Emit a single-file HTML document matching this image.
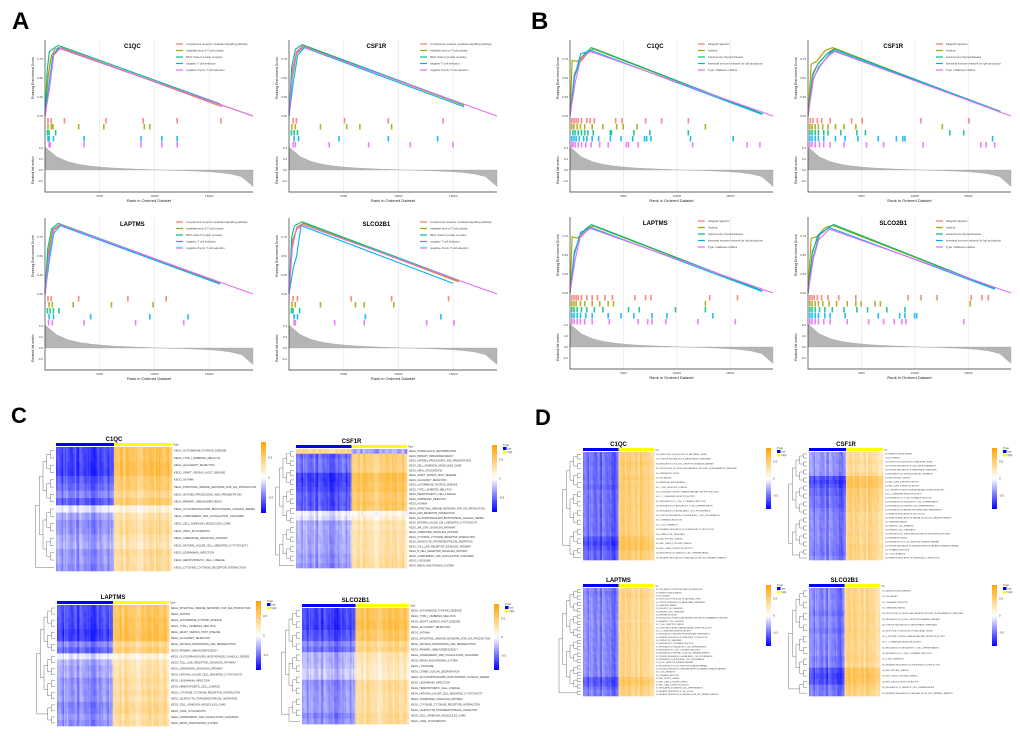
<!DOCTYPE html>
<html><head><meta charset="utf-8"><style>
html,body{margin:0;padding:0;background:#fff;}
svg{display:block;font-family:"Liberation Sans",sans-serif;}
</style></head><body>
<svg id="fig" width="1020" height="736" viewBox="0 0 1020 736" xmlns="http://www.w3.org/2000/svg">
<text x="12" y="29" font-size="24" font-weight="bold">A</text>
<text x="531" y="29" font-size="24" font-weight="bold">B</text>
<text x="11" y="423" font-size="22" font-weight="bold">C</text>
<text x="535" y="425" font-size="22" font-weight="bold">D</text>
<g id="root"></g>
</svg>
<script>
// ---------- DATA ----------
const N = 19000;
const colors = ["#F8766D","#A3A500","#00BF7D","#00B0F6","#E76BF3"];
const namesA = ["complement receptor mediated signaling pathway","establishment of T cell polarity","MHC class II protein complex","negative T cell selection","negative thymic T cell selection"];
const namesB = ["Allograft rejection","Asthma","Autoimmune thyroid disease","Intestinal immune network for IgA production","Type I diabetes mellitus"];
const metricVals = [0.42,0.24,0.15,0.1,0.07,0.05,0.035,0.025,0.015,0.008,0,-0.006,-0.012,-0.02,-0.03,-0.045,-0.07,-0.12,-0.3];
const esA1 = [[[0,0],[250,0.45],[500,0.75],[900,0.88],[1500,0.9],[16200,0.12]],[[0,0],[300,0.55],[600,0.8],[1300,0.89],[19000,0.0]],[[0,0],[200,0.6],[400,0.85],[1200,0.93],[16000,0.16]],[[0,0],[350,0.4],[700,0.78],[1200,0.9],[16200,0.14]],[[0,0],[400,0.35],[800,0.8],[1400,0.89],[19000,0.0]]];
const esA2 = [[[0,0],[300,0.6],[700,0.85],[1300,0.93],[16000,0.15]],[[0,0],[300,0.5],[700,0.82],[1400,0.92],[16000,0.14]],[[0,0],[250,0.65],[600,0.88],[1200,0.94],[16000,0.15]],[[0,0],[400,0.45],[800,0.8],[1400,0.9],[16000,0.12]],[[0,0],[300,0.55],[700,0.84],[1300,0.91],[19000,0.0]]];
const esA3 = [[[0,0],[300,0.5],[700,0.85],[1400,0.92],[16000,0.14]],[[0,0],[300,0.55],[700,0.83],[1300,0.91],[16000,0.13]],[[0,0],[250,0.6],[600,0.86],[1200,0.93],[16000,0.15]],[[0,0],[400,0.45],[800,0.8],[1400,0.9],[16000,0.13]],[[0,0],[350,0.5],[800,0.84],[1400,0.91],[19000,0.0]]];
const esA4 = [[[0,0],[300,0.6],[700,0.88],[1300,0.93],[15500,0.16]],[[0,0],[300,0.7],[700,0.85],[1300,0.93],[15500,0.17]],[[0,0],[250,0.75],[500,0.9],[1200,0.95],[15500,0.18]],[[0,0],[400,0.35],[700,0.5],[1100,0.9],[15000,0.14]],[[0,0],[300,0.65],[700,0.85],[1300,0.91],[19000,0.0]]];
const esB1 = [[[0,0],[400,0.55],[900,0.7],[1800,0.85],[2200,0.89],[18000,0.03]],[[0,0],[200,0.73],[700,0.72],[1500,0.84],[2200,0.88],[18000,0.03]],[[0,0],[400,0.5],[900,0.72],[1700,0.86],[2000,0.9],[18000,0.03]],[[0,0],[400,0.5],[1000,0.82],[2000,0.86],[18000,0.02]],[[0,0],[500,0.45],[1000,0.75],[1900,0.85],[19000,0.0]]];
const esB2 = [[[0,0],[400,0.55],[1000,0.7],[2000,0.85],[2500,0.89],[18000,0.05]],[[0,0],[300,0.68],[800,0.72],[1600,0.86],[2300,0.9],[18000,0.05]],[[0,0],[400,0.52],[900,0.68],[1800,0.82],[2500,0.88],[18000,0.06]],[[0,0],[500,0.5],[1100,0.65],[2000,0.82],[2500,0.86],[18000,0.06]],[[0,0],[500,0.48],[1000,0.65],[2000,0.8],[2500,0.85],[19000,0.0]]];
const esB3 = [[[0,0],[400,0.55],[900,0.72],[1800,0.85],[2200,0.89],[18000,0.03]],[[0,0],[200,0.74],[700,0.72],[1500,0.85],[2200,0.88],[18000,0.03]],[[0,0],[400,0.52],[900,0.75],[1700,0.87],[2000,0.9],[18000,0.03]],[[0,0],[400,0.5],[1000,0.8],[2000,0.86],[18000,0.02]],[[0,0],[500,0.45],[1000,0.76],[1900,0.85],[19000,0.0]]];
const esB4 = [[[0,0],[400,0.55],[1000,0.75],[2000,0.87],[2400,0.9],[17500,0.06]],[[0,0],[300,0.72],[800,0.74],[1600,0.86],[2300,0.89],[17500,0.06]],[[0,0],[400,0.52],[900,0.75],[1800,0.85],[2400,0.9],[17500,0.06]],[[0,0],[500,0.48],[1100,0.78],[2000,0.86],[17500,0.05]],[[0,0],[500,0.45],[1000,0.7],[2000,0.84],[19000,0.0]]];
const hitsA1 = [[200,500,1700,5500,8900,12000,16000],[200,500,650,3000,5300,9000,9500],[150,300,900],[200,300,700,3500,8700,10600,12000],[300,400,3500,8700,10600,12000]];
const hitsA2 = [[300,600,5000,9000,14000],[200,500,2800,5200,6400,9300],[150,400,700],[400,800,4500,9000,13500],[300,500,3600,7200,11000,14900]];
const hitsA3 = [[200,500,3000,7500,11000],[300,600,2500,6000,9800],[150,400,700,1200],[300,700,4100,9500,13000],[250,600,3500,8200,12600]];
const hitsA4 = [[300,700,5600,9300,14500],[200,500,2800,6000,6800,9500],[150,300,900],[400,700,6900,13800],[400,500,4100,6800,12500,15000]];
const hitsB1 = [[100,300,500,700,1000,1500,1800,2200,4200,4800,7000,8500,11000],[100,300,600,900,1300,2000,3000,4300,4900,6200,12600],[200,400,700,1000,1300,1600,2100,3700,3800,5900,7400,11000],[100,300,500,800,1200,1500,2000,2600,3700,4700,5800,6900,7100,7500,11200,15200],[100,200,400,700,1000,1400,1900,2700,3500,5200,5400,6300,11400,16500,17700]];
const hitsB2 = [[150,400,800,1200,2000,4000,5000,10500,15000],[100,300,600,900,1300,1800,2500,3300,4400,12500],[100,300,600,900,1400,1800,3000,4500,5300,13200,14500],[100,300,600,900,1400,2500,3400,4600,6500,8200,8800,9000,17200],[100,300,600,1000,1400,2000,3300,5400,7000,10700,16100,16600,17400]];
const hitsB3 = [[100,300,500,700,1000,1500,2000,2500,3200,3900,6000,7000,7500,13000,15600],[100,300,500,900,1300,2000,2700,3500,4000,12600],[100,300,600,1000,1500,2200,3000,5400,6400,9800,12600],[100,300,600,900,1400,2000,3500,4700,5900,7600,9000,13300],[100,300,600,900,1300,2000,3600,6300,7200,7600,8900,11900,15400]];
const hitsB4 = [[100,300,500,800,1200,1800,2800,4400,9300,10500,12000,15200,16200,16800],[100,300,600,900,1300,1900,2600,3600,4400,4900,6200,6700,15100],[100,300,600,1000,1500,2200,3300,4500,5500,7300,9000],[100,300,600,900,1500,2000,3400,6500,8500,9000,9900,10100],[100,300,600,900,1400,2000,3600,5600,7000,8000,8700,9100,14500]];

const lblC1 = ["KEGG_AUTOIMMUNE_THYROID_DISEASE","KEGG_TYPE_I_DIABETES_MELLITUS","KEGG_ALLOGRAFT_REJECTION","KEGG_GRAFT_VERSUS_HOST_DISEASE","KEGG_ASTHMA","KEGG_INTESTINAL_IMMUNE_NETWORK_FOR_IGA_PRODUCTION","KEGG_ANTIGEN_PROCESSING_AND_PRESENTATION","KEGG_PRIMARY_IMMUNODEFICIENCY","KEGG_GLYCOSPHINGOLIPID_BIOSYNTHESIS_GANGLIO_SERIES","KEGG_COMPLEMENT_AND_COAGULATION_CASCADES","KEGG_CELL_ADHESION_MOLECULES_CAMS","KEGG_VIRAL_MYOCARDITIS","KEGG_CHEMOKINE_SIGNALING_PATHWAY","KEGG_NATURAL_KILLER_CELL_MEDIATED_CYTOTOXICITY","KEGG_LEISHMANIA_INFECTION","KEGG_HEMATOPOIETIC_CELL_LINEAGE","KEGG_CYTOKINE_CYTOKINE_RECEPTOR_INTERACTION"];
const strC1 = [0.9,0.9,0.95,0.95,0.8,0.75,0.6,0.8,0.15,0.45,0.55,0.55,0.45,0.4,0.55,0.5,0.55];
const lblC2 = ["KEGG_HOMOLOGOUS_RECOMBINATION","KEGG_PRIMARY_IMMUNODEFICIENCY","KEGG_ANTIGEN_PROCESSING_AND_PRESENTATION","KEGG_CELL_ADHESION_MOLECULES_CAMS","KEGG_VIRAL_MYOCARDITIS","KEGG_GRAFT_VERSUS_HOST_DISEASE","KEGG_ALLOGRAFT_REJECTION","KEGG_AUTOIMMUNE_THYROID_DISEASE","KEGG_TYPE_I_DIABETES_MELLITUS","KEGG_HEMATOPOIETIC_CELL_LINEAGE","KEGG_LEISHMANIA_INFECTION","KEGG_ASTHMA","KEGG_INTESTINAL_IMMUNE_NETWORK_FOR_IGA_PRODUCTION","KEGG_ECM_RECEPTOR_INTERACTION","KEGG_GLYCOSPHINGOLIPID_BIOSYNTHESIS_GANGLIO_SERIES","KEGG_NATURAL_KILLER_CELL_MEDIATED_CYTOTOXICITY","KEGG_JAK_STAT_SIGNALING_PATHWAY","KEGG_CHEMOKINE_SIGNALING_PATHWAY","KEGG_CYTOKINE_CYTOKINE_RECEPTOR_INTERACTION","KEGG_LEUKOCYTE_TRANSENDOTHELIAL_MIGRATION","KEGG_TOLL_LIKE_RECEPTOR_SIGNALING_PATHWAY","KEGG_B_CELL_RECEPTOR_SIGNALING_PATHWAY","KEGG_COMPLEMENT_AND_COAGULATION_CASCADES","KEGG_LYSOSOME","KEGG_RENIN_ANGIOTENSIN_SYSTEM"];
const strC2 = [-0.5,0.75,0.7,0.7,0.7,0.95,0.95,0.9,0.9,0.8,0.8,0.85,0.8,0.1,0.2,0.45,0.4,0.45,0.45,0.45,0.45,0.45,0.5,0.5,0.55];
const lblC3 = ["KEGG_INTESTINAL_IMMUNE_NETWORK_FOR_IGA_PRODUCTION","KEGG_ASTHMA","KEGG_AUTOIMMUNE_THYROID_DISEASE","KEGG_TYPE_I_DIABETES_MELLITUS","KEGG_GRAFT_VERSUS_HOST_DISEASE","KEGG_ALLOGRAFT_REJECTION","KEGG_ANTIGEN_PROCESSING_AND_PRESENTATION","KEGG_PRIMARY_IMMUNODEFICIENCY","KEGG_GLYCOSPHINGOLIPID_BIOSYNTHESIS_GANGLIO_SERIES","KEGG_TOLL_LIKE_RECEPTOR_SIGNALING_PATHWAY","KEGG_CHEMOKINE_SIGNALING_PATHWAY","KEGG_NATURAL_KILLER_CELL_MEDIATED_CYTOTOXICITY","KEGG_LEISHMANIA_INFECTION","KEGG_HEMATOPOIETIC_CELL_LINEAGE","KEGG_CYTOKINE_CYTOKINE_RECEPTOR_INTERACTION","KEGG_LEUKOCYTE_TRANSENDOTHELIAL_MIGRATION","KEGG_CELL_ADHESION_MOLECULES_CAMS","KEGG_VIRAL_MYOCARDITIS","KEGG_COMPLEMENT_AND_COAGULATION_CASCADES","KEGG_RENIN_ANGIOTENSIN_SYSTEM"];
const strC3 = [0.85,0.85,0.9,0.9,0.95,0.95,0.6,0.75,0.15,0.4,0.45,0.45,0.55,0.5,0.55,0.5,0.6,0.6,0.5,0.55];
const lblC4 = ["KEGG_AUTOIMMUNE_THYROID_DISEASE","KEGG_TYPE_I_DIABETES_MELLITUS","KEGG_GRAFT_VERSUS_HOST_DISEASE","KEGG_ALLOGRAFT_REJECTION","KEGG_ASTHMA","KEGG_INTESTINAL_IMMUNE_NETWORK_FOR_IGA_PRODUCTION","KEGG_ANTIGEN_PROCESSING_AND_PRESENTATION","KEGG_PRIMARY_IMMUNODEFICIENCY","KEGG_COMPLEMENT_AND_COAGULATION_CASCADES","KEGG_RENIN_ANGIOTENSIN_SYSTEM","KEGG_LYSOSOME","KEGG_OTHER_GLYCAN_DEGRADATION","KEGG_GLYCOSPHINGOLIPID_BIOSYNTHESIS_GANGLIO_SERIES","KEGG_LEISHMANIA_INFECTION","KEGG_HEMATOPOIETIC_CELL_LINEAGE","KEGG_NATURAL_KILLER_CELL_MEDIATED_CYTOTOXICITY","KEGG_CHEMOKINE_SIGNALING_PATHWAY","KEGG_CYTOKINE_CYTOKINE_RECEPTOR_INTERACTION","KEGG_LEUKOCYTE_TRANSENDOTHELIAL_MIGRATION","KEGG_CELL_ADHESION_MOLECULES_CAMS","KEGG_VIRAL_MYOCARDITIS"];
const strC4 = [0.9,0.9,0.95,0.95,0.85,0.85,0.6,0.7,0.4,0.4,0.35,0.3,0.3,0.55,0.55,0.5,0.5,0.5,0.5,0.6,0.55];
const lblD1 = ["GO_DETECTION_OF_MOLECULE_OF_BACTERIAL_ORIGIN","GO_POSITIVE_REGULATION_OF_MACROPHAGE_CHEMOTAXIS","GO_REGULATION_OF_B_CELL_RECEPTOR_SIGNALING_PATHWAY","GO_PRODUCTION_OF_MOLECULAR_MEDIATOR_INVOLVED_IN_INFLAMMATORY_RESPONSE","GO_RESPIRATORY_BURST","GO_IGG_BINDING","GO_IMMUNOGLOBULIN_BINDING","GO_T_CELL_RECEPTOR_COMPLEX","GO_G_PROTEIN_COUPLED_CHEMOATTRACTANT_RECEPTOR_ACTIVITY","GO_C_C_CHEMOKINE_RECEPTOR_ACTIVITY","GO_REGULATION_OF_T_CELL_TOLERANCE_INDUCTION","GO_REGULATION_OF_REGULATORY_T_CELL_DIFFERENTIATION","GO_REGULATION_OF_ALPHA_BETA_T_CELL_PROLIFERATION","GO_POSITIVE_REGULATION_OF_ALPHA_BETA_T_CELL_PROLIFERATION","GO_TOLERANCE_INDUCTION","GO_T_CELL_MIGRATION","GO_NEGATIVE_REGULATION_OF_INTERLEUKIN_12_PRODUCTION","GO_LYMPHOCYTE_CHEMOTAXIS","GO_MHC_PROTEIN_COMPLEX","GO_MHC_CLASS_II_PROTEIN_COMPLEX","GO_MHC_CLASS_II_RECEPTOR_ACTIVITY","GO_REGULATION_OF_DENDRITIC_CELL_DIFFERENTIATION","GO_NEGATIVE_REGULATION_OF_NATURAL_KILLER_CELL_MEDIATED_IMMUNITY"];
const strD1 = [0.7,0.7,0.75,0.7,0.7,0.75,0.7,0.75,0.7,0.7,0.7,0.7,0.7,0.7,0.7,0.7,0.7,0.7,0.85,0.9,0.85,0.75,0.75];
const lblD2 = ["GO_IMMUNOGLOBULIN_BINDING","GO_IGG_BINDING","GO_DETECTION_OF_MOLECULE_OF_BACTERIAL_ORIGIN","GO_POSITIVE_REGULATION_OF_CELLULAR_EXTRAVASATION","GO_POSITIVE_REGULATION_OF_MACROPHAGE_CHEMOTAXIS","GO_REGULATION_OF_MONONUCLEAR_CELL_MIGRATION","GO_MHC_PROTEIN_COMPLEX","GO_MHC_CLASS_II_PROTEIN_COMPLEX","GO_MHC_CLASS_II_RECEPTOR_ACTIVITY","GO_G_PROTEIN_COUPLED_CHEMOATTRACTANT_RECEPTOR_ACTIVITY","GO_C_C_CHEMOKINE_RECEPTOR_ACTIVITY","GO_REGULATION_OF_T_CELL_TOLERANCE_INDUCTION","GO_REGULATION_OF_REGULATORY_T_CELL_DIFFERENTIATION","GO_REGULATION_OF_DENDRITIC_CELL_DIFFERENTIATION","GO_REGULATION_OF_ANTIGEN_PROCESSING_AND_PRESENTATION","GO_NEGATIVE_REGULATION_OF_CELL_KILLING","GO_NEGATIVE_REGULATION_OF_NATURAL_KILLER_CELL_MEDIATED_IMMUNITY","GO_CHEMOKINE_BINDING","GO_DENDRITIC_CELL_MIGRATION","GO_DENDRITIC_CELL_CHEMOTAXIS","GO_REGULATION_OF_TUMOR_NECROSIS_FACTOR_BIOSYNTHETIC_PROCESS","GO_RESPIRATORY_BURST","GO_REGULATION_OF_B_CELL_RECEPTOR_SIGNALING_PATHWAY","GO_POSITIVE_REGULATION_OF_ANTIGEN_RECEPTOR_MEDIATED_SIGNALING_PATHWAY","GO_TOLERANCE_INDUCTION","GO_T_CELL_MIGRATION","GO_NEGATIVE_REGULATION_OF_INTERLEUKIN_12_PRODUCTION"];
const strD2 = [0.5,0.5,0.55,0.5,0.5,0.55,0.85,0.9,0.85,0.75,0.75,0.7,0.7,0.7,0.65,0.6,0.6,0.6,0.6,0.6,0.6,0.6,0.6,0.65,0.65,0.65,0.6];
const lblD3 = ["GO_LOW_DENSITY_LIPOPROTEIN_PARTICLE_REMODELING","GO_IMMUNOGLOBULIN_BINDING","GO_IGG_BINDING","GO_DETECTION_OF_MOLECULE_OF_BACTERIAL_ORIGIN","GO_POSITIVE_REGULATION_OF_MACROPHAGE_CHEMOTAXIS","GO_CHEMOKINE_BINDING","GO_DENDRITIC_CELL_MIGRATION","GO_DENDRITIC_CELL_CHEMOTAXIS","GO_RESPIRATORY_BURST","GO_PRODUCTION_OF_MOLECULAR_MEDIATOR_INVOLVED_IN_INFLAMMATORY_RESPONSE","GO_NEGATIVE_T_CELL_SELECTION","GO_T_CELL_RECEPTOR_COMPLEX","GO_G_PROTEIN_COUPLED_CHEMOATTRACTANT_RECEPTOR_ACTIVITY","GO_C_C_CHEMOKINE_RECEPTOR_ACTIVITY","GO_REGULATION_OF_ANTIGEN_PROCESSING_AND_PRESENTATION","GO_NEGATIVE_REGULATION_OF_INTERLEUKIN_12_PRODUCTION","GO_LYMPHOCYTE_CHEMOTAXIS","GO_REGULATION_OF_TOLERANCE_INDUCTION","GO_REGULATION_OF_REGULATORY_T_CELL_DIFFERENTIATION","GO_REGULATION_OF_T_CELL_TOLERANCE_INDUCTION","GO_REGULATION_OF_NATURAL_KILLER_CELL_MEDIATED_IMMUNITY","GO_POSITIVE_REGULATION_OF_ALPHA_BETA_T_CELL_PROLIFERATION","GO_REGULATION_OF_ALPHA_BETA_T_CELL_PROLIFERATION","GO_B_CELL_RECEPTOR_SIGNALING_PATHWAY","GO_REGULATION_OF_B_CELL_RECEPTOR_SIGNALING_PATHWAY","GO_POSITIVE_REGULATION_OF_ANTIGEN_RECEPTOR_MEDIATED_SIGNALING_PATHWAY","GO_T_CELL_MIGRATION","GO_TOLERANCE_INDUCTION","GO_MHC_PROTEIN_COMPLEX","GO_MHC_CLASS_II_PROTEIN_COMPLEX","GO_MHC_CLASS_II_RECEPTOR_ACTIVITY","GO_REGULATION_OF_DENDRITIC_CELL_DIFFERENTIATION","GO_NEGATIVE_REGULATION_OF_CELL_KILLING","GO_NEGATIVE_REGULATION_OF_NATURAL_KILLER_CELL_MEDIATED_IMMUNITY"];
const strD3 = [0.6,0.65,0.65,0.6,0.6,0.6,0.6,0.6,0.6,0.6,0.55,0.6,0.6,0.6,0.6,0.6,0.6,0.6,0.6,0.6,0.6,0.6,0.6,0.6,0.6,0.6,0.6,0.6,0.8,0.85,0.8,0.7,0.65,0.65];
const lblD4 = ["GO_IMMUNOGLOBULIN_BINDING","GO_IGG_BINDING","GO_TOLERANCE_INDUCTION","GO_CHEMOKINE_BINDING","GO_PRODUCTION_OF_MOLECULAR_MEDIATOR_INVOLVED_IN_INFLAMMATORY_RESPONSE","GO_REGULATION_OF_B_CELL_RECEPTOR_SIGNALING_PATHWAY","GO_POSITIVE_REGULATION_OF_MACROPHAGE_CHEMOTAXIS","GO_DETECTION_OF_MOLECULE_OF_BACTERIAL_ORIGIN","GO_G_PROTEIN_COUPLED_CHEMOATTRACTANT_RECEPTOR_ACTIVITY","GO_C_C_CHEMOKINE_RECEPTOR_ACTIVITY","GO_REGULATION_OF_REGULATORY_T_CELL_DIFFERENTIATION","GO_REGULATION_OF_T_CELL_TOLERANCE_INDUCTION","GO_T_CELL_MIGRATION","GO_NEGATIVE_REGULATION_OF_INTERLEUKIN_12_PRODUCTION","GO_MHC_PROTEIN_COMPLEX","GO_MHC_CLASS_II_PROTEIN_COMPLEX","GO_MHC_CLASS_II_RECEPTOR_ACTIVITY","GO_REGULATION_OF_DENDRITIC_CELL_DIFFERENTIATION","GO_NEGATIVE_REGULATION_OF_NATURAL_KILLER_CELL_MEDIATED_IMMUNITY"];
const strD4 = [0.6,0.6,0.6,0.6,0.65,0.6,0.6,0.65,0.6,0.6,0.6,0.6,0.65,0.6,0.85,0.9,0.85,0.7,0.65];
const noise = [0.1,-0.2,0.3,0,-0.1,0.25,-0.3,0.05,0.15,-0.05,0.2,-0.25,0.35,-0.15,0.0,0.1,-0.35,0.2,0.05,-0.1,0.3,-0.2,0.15,-0.05];

// ---------- DRAW ----------
const NS = "http://www.w3.org/2000/svg";
const root = document.getElementById('root');
function el(tag, attrs, parent, txt){
  const e = document.createElementNS(NS, tag);
  for (const k in attrs) e.setAttribute(k, attrs[k]);
  if (txt !== undefined) e.textContent = txt;
  (parent||root).appendChild(e);
  return e;
}

function gsea(px, py, w, title, names, es, hits, key){
  const g = el('g', {});
  
  
  const xS = r => px + r / N * w;
  const yES = v => py + 76 * (1 - v);
  const yM = v => py + 130 - v * 55;
  [5000,10000,15000].forEach(t => {
    const gl = el('line', {x1:xS(t), x2:xS(t), y1:py, y2:py+152, stroke:'#e4e4e4', 'stroke-width':0.6}, g);
    
    
  });
  [0,0.25,0.5,0.75].forEach(t => {
    const tl = el('text', {x:px-2, y:yES(t)+1, 'font-size':3, 'text-anchor':'end', fill:'#444'}, g, t.toFixed(2));
    
    
  });
  es.forEach((pts, i) => {
    const d = pts.map((p, j) => (j ? 'L' : 'M') + xS(p[0]).toFixed(2) + ' ' + yES(p[1]).toFixed(2)).join(' ');
    const c = el('path', {d:d, fill:'none', stroke:colors[i], 'stroke-width':1.1}, g);
    
    
  });
  const tt = el('text', {x:px + w*0.42, y:py+8, 'font-size':6, 'font-weight':'bold', 'text-anchor':'middle'}, g, title);
  
  
  names.forEach((n, i) => {
    const ly = py + 4 + i * 6.5;
    const ls = el('line', {x1:px+w*0.63, x2:px+w*0.63+7, y1:ly, y2:ly, stroke:colors[i], 'stroke-width':1.2}, g);
    
    
    const lt = el('text', {x:px+w*0.63+10, y:ly+1, 'font-size':2.8, fill:'#444'}, g, n);
    
    
  });
  hits.forEach((hs, i) => {
    hs.forEach(h => {
      const r = el('rect', {x:xS(h), y:py+78+i*6, width:1.6, height:5.5, fill:colors[i], opacity:0.85}, g);
      
      
    });
  });
  let d = 'M' + xS(0) + ' ' + yM(0);
  metricVals.forEach((v, i) => { d += ' L' + xS(i / (metricVals.length - 1) * N).toFixed(2) + ' ' + yM(v).toFixed(2); });
  d += ' L' + xS(N) + ' ' + yM(0) + ' Z';
  const ma = el('path', {d:d, fill:'#b5b5b5', stroke:'#999', 'stroke-width':0.3}, g);
  
  
  [0.4,0.2,0,-0.2].forEach(t => {
    const tl = el('text', {x:px-2, y:yM(t)+1, 'font-size':3, 'text-anchor':'end', fill:'#444'}, g, t.toFixed(1));
    
    
  });
  const ax = el('path', {d:`M${px} ${py} L${px} ${py+152} L${px+w} ${py+152}`, fill:'none', stroke:'#333', 'stroke-width':0.7}, g);
  
  
  [5000,10000,15000].forEach(t => {
    const tl = el('text', {x:xS(t), y:py+157, 'font-size':3, 'text-anchor':'middle', fill:'#444'}, g, String(t));
    
    
  });
  const xt = el('text', {x:px+w/2, y:py+162, 'font-size':4, 'text-anchor':'middle', fill:'#222'}, g, 'Rank in Ordered Dataset');
  
  
  const yt = el('text', {x:0, y:0, 'font-size':3.5, 'text-anchor':'middle', fill:'#222', transform:`translate(${px-11},${py+38}) rotate(-90)`}, g, 'Running Enrichment Score');
  
  
  const yt2 = el('text', {x:0, y:0, 'font-size':3.5, 'text-anchor':'middle', fill:'#222', transform:`translate(${px-11},${py+130}) rotate(-90)`}, g, 'Ranked list metric');
  
  
}

function col(v){
  v = Math.max(-1, Math.min(1, v));
  let r, gg, b;
  if (v < 0){ const t = -v; r = 255*(1-t); gg = 255*(1-t); b = 255; }
  else { const t = v; r = 255; gg = 255 - 90*t; b = 255*(1-t); }
  return `rgb(${r|0},${gg|0},${b|0})`;
}

function heatmap(x, y, w, h, title, labels, strength, cb, ncol, fs, key, legendBox){
  const g = el('g', {});
  
  
  const nr = labels.length;
  const rh = h / nr, cw = w / ncol, half = ncol / 2;
  const tt = el('text', {x:x+w/2, y:y-6, 'font-size':6, 'font-weight':'bold', 'text-anchor':'middle'}, g, title);
  
  
  const b1 = el('rect', {x:x, y:y-4, width:w/2, height:3, fill:'#0000ff'}, g);
  
  
  const b2 = el('rect', {x:x+w/2, y:y-4, width:w/2, height:3, fill:'#ffff00'}, g);
  
  
  const tl = el('text', {x:x+w+1, y:y-1.5, 'font-size':fs, fill:'#333'}, g, 'Type');
  
  
  for (let r = 0; r < nr; r++){
    for (let c = 0; c < ncol; c++){
      const sgn = c < half ? -1 : 1;
      const nz = noise[(c*5 + (c>>2)) % noise.length] * 0.9 + noise[(r*7 + c*3) % noise.length] * 0.3;
      let v = sgn * strength[r] * (sgn < 0 ? 0.82 : 0.7) + nz * 0.45;
      const cell = el('rect', {x:(x + c*cw).toFixed(2), y:(y + r*rh).toFixed(2), width:(cw+0.3).toFixed(2), height:(rh+0.3).toFixed(2), fill:col(v)}, g);
      
      
    }
    const lb = el('text', {x:x+w+2, y:y + (r+0.5)*rh + fs*0.35, 'font-size':fs, fill:'#333'}, g, labels[r]);
    
    
  }
  let nodes = labels.map((_, i) => ({y: y + (i+0.5)*rh, d: 0}));
  let level = 0;
  const dw = 22;
  while (nodes.length > 1){
    level++;
    const next = [];
    for (let i = 0; i < nodes.length; i += 2){
      if (i + 1 >= nodes.length){ next.push(nodes[i]); continue; }
      const a = nodes[i], b = nodes[i+1];
      const nx = x - 2 - level * dw / 6;
      const ax0 = x - 2 - a.d * dw / 6, bx0 = x - 2 - b.d * dw / 6;
      const p = el('path', {d:`M${ax0} ${a.y} H${nx} V${b.y} H${bx0}`, fill:'none', stroke:'#666', 'stroke-width':0.45}, g);
      
      
      next.push({y:(a.y+b.y)/2, d:level});
    }
    nodes = next;
  }
  const gid = 'cbg' + key;
  const defs = el('defs', {}, g);
  const lg = el('linearGradient', {id:gid, x1:0, y1:0, x2:0, y2:1}, defs);
  el('stop', {offset:'0', 'stop-color':'#ffa500'}, lg);
  el('stop', {offset:'0.5', 'stop-color':'#ffffff'}, lg);
  el('stop', {offset:'1', 'stop-color':'#0000ff'}, lg);
  const cbr = el('rect', {x:cb[0], y:cb[1], width:5, height:cb[2], fill:`url(#${gid})`}, g);
  
  
  [['0.5',0.22],['0',0.5],['-0.5',0.78]].forEach(t => {
    const ct = el('text', {x:cb[0]+7, y:cb[1]+cb[2]*t[1]+1, 'font-size':3, fill:'#444'}, g, t[0]);
    
    
  });
  if (legendBox){
    const lx = cb[0] + 11, ly = cb[1];
    const lt = el('text', {x:lx, y:ly+1, 'font-size':2.8, fill:'#333'}, g, 'Type');
    
    
    const s1 = el('rect', {x:lx, y:ly+2, width:3.5, height:3, fill:'#0000ff'}, g);
    
    
    const s2 = el('rect', {x:lx, y:ly+5.5, width:3.5, height:3, fill:'#ffff00'}, g);
    
    
    el('text', {x:lx+4.5, y:ly+4.6, 'font-size':2.5, fill:'#333'}, g, 'low');
    el('text', {x:lx+4.5, y:ly+8.1, 'font-size':2.5, fill:'#333'}, g, 'high');
  }
}

gsea(45, 40, 208, 'C1QC', namesA, esA1, hitsA1, 'a-c1qc');
gsea(289, 40, 208, 'CSF1R', namesA, esA2, hitsA2, 'a-csf1r');
gsea(45, 218, 208, 'LAPTMS', namesA, esA3, hitsA3, 'a-laptms');
gsea(289, 218, 208, 'SLCO2B1', namesA, esA4, hitsA4, 'a-slco2b1');
gsea(570, 40, 203, 'C1QC', namesB, esB1, hitsB1, 'b-c1qc');
gsea(808, 40, 203, 'CSF1R', namesB, esB2, hitsB2, 'b-csf1r');
gsea(570, 217, 203, 'LAPTMS', namesB, esB3, hitsB3, 'b-laptms');
gsea(808, 217, 203, 'SLCO2B1', namesB, esB4, hitsB4, 'b-slco2b1');
heatmap(56, 447, 116, 124, 'C1QC', lblC1, strC1, [261,442,71], 80, 2.6, 'c-c1qc', false);
heatmap(296, 449, 111, 119, 'CSF1R', lblC2, strC2, [492,445,67], 80, 2.4, 'c-csf1r', true);
heatmap(57, 605, 112, 121, 'LAPTMS', lblC3, strC3, [256,601,69], 80, 2.5, 'c-laptms', true);
heatmap(302, 608, 107, 116, 'SLCO2B1', lblC4, strC4, [494,604,66], 80, 2.5, 'c-slco2b1', true);
heatmap(583, 452, 71, 108, 'C1QC', lblD1, strD1, [766,448,61], 60, 1.8, 'd-c1qc', true);
heatmap(809, 452, 74, 108, 'CSF1R', lblD2, strD2, [992,448,61], 60, 1.7, 'd-csf1r', true);
heatmap(583, 588, 71, 108, 'LAPTMS', lblD3, strD3, [766,585,61], 60, 1.6, 'd-laptms', true);
heatmap(809, 588, 71, 108, 'SLCO2B1', lblD4, strD4, [992,585,61], 60, 1.8, 'd-slco2b1', true);
</script>
</body></html>
